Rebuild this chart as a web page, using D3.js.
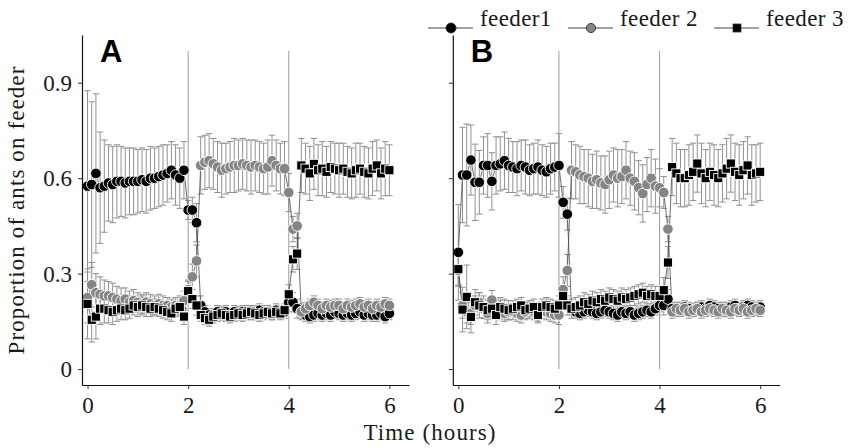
<!DOCTYPE html>
<html>
<head>
<meta charset="utf-8">
<script src="https://cdn.jsdelivr.net/npm/d3@7"></script>
<style>
  body { margin: 0; background: #fff; }
  svg text { font-family: "Liberation Serif", "Times New Roman", serif; fill: #1a1a1a; }
</style>
</head>
<body>
<svg id="chart" width="848" height="448"></svg>
<script>
// sampling times (minutes since start), one point every 5 min
const minutes = [0, 5, 10, 15, 20, 25, 30, 35, 40, 45, 50, 55, 60, 65, 70, 75, 80, 85, 90, 95, 100, 105, 110, 115,
  120, 125, 130, 135, 140, 145, 150, 155, 160, 165, 170, 175, 180, 185, 190, 195, 200, 205, 210, 215, 220, 225, 230, 235,
  240, 245, 250, 255, 260, 265, 270, 275, 280, 285, 290, 295, 300, 305, 310, 315, 320, 325, 330, 335, 340, 345, 350, 355, 360];

const switchHours = [2, 4];
const xTicks = [0, 2, 4, 6];
const yTicks = [0, 0.3, 0.6, 0.9];
const feederNames = ["feeder1", "feeder 2", "feeder 3"];

// panel A means
const aFeeder1 = [0.575, 0.58, 0.615, 0.57, 0.575, 0.585, 0.58, 0.59, 0.59, 0.585, 0.59, 0.59, 0.59, 0.595, 0.59, 0.6, 0.6, 0.605, 0.61, 0.615, 0.625, 0.61, 0.6, 0.625,
  0.5, 0.5, 0.46,
  0.2, 0.18, 0.17, 0.17, 0.18, 0.175, 0.18, 0.17, 0.18, 0.175, 0.18, 0.18, 0.175, 0.18, 0.185, 0.18, 0.18, 0.175, 0.185, 0.18, 0.18,
  0.21, 0.21, 0.19,
  0.18, 0.17, 0.165, 0.17, 0.175, 0.17, 0.175, 0.17, 0.18, 0.175, 0.17, 0.175, 0.17, 0.175, 0.18, 0.17, 0.175, 0.17, 0.17, 0.175, 0.165, 0.175];
const aFeeder2 = [0.225, 0.265, 0.24, 0.235, 0.23, 0.23, 0.225, 0.22, 0.215, 0.22, 0.21, 0.215, 0.21, 0.205, 0.21, 0.205, 0.2, 0.205, 0.2, 0.2, 0.195, 0.2, 0.2, 0.215,
  0.25, 0.29, 0.34,
  0.64, 0.65, 0.655, 0.645, 0.635, 0.625, 0.63, 0.635, 0.64, 0.64, 0.645, 0.64, 0.635, 0.64, 0.635, 0.63, 0.635, 0.655, 0.64, 0.63, 0.63,
  0.555, 0.44, 0.45,
  0.18, 0.19, 0.2, 0.21, 0.2, 0.19, 0.2, 0.195, 0.2, 0.2, 0.19, 0.2, 0.195, 0.2, 0.205, 0.195, 0.2, 0.19, 0.2, 0.195, 0.205, 0.2];
const aFeeder3 = [0.205, 0.155, 0.165, 0.19, 0.19, 0.185, 0.18, 0.185, 0.19, 0.185, 0.19, 0.2, 0.195, 0.2, 0.195, 0.19, 0.195, 0.19, 0.185, 0.18, 0.175, 0.19, 0.195, 0.165,
  0.245, 0.22, 0.2,
  0.17, 0.16, 0.155, 0.165, 0.17, 0.175, 0.17, 0.165, 0.17, 0.175, 0.17, 0.175, 0.18, 0.175, 0.17, 0.175, 0.18, 0.175, 0.18, 0.175, 0.185,
  0.235, 0.345, 0.363,
  0.64, 0.63, 0.615, 0.645, 0.625, 0.63, 0.62, 0.635, 0.63, 0.625, 0.63, 0.62, 0.615, 0.625, 0.63, 0.62, 0.615, 0.63, 0.64, 0.615, 0.63, 0.625];

// panel A error bar half-widths
const aErr1 = [0.3, 0.26, 0.25, 0.175, 0.145, 0.12, 0.12, 0.115, 0.11, 0.11, 0.105, 0.105, 0.1, 0.1, 0.1, 0.1, 0.095, 0.095, 0.095, 0.09, 0.09, 0.095, 0.095, 0.09,
  0.03, 0.04, 0.06,
  0.03, 0.02, 0.02, 0.02, 0.02, 0.02, 0.02, 0.02, 0.02, 0.02, 0.02, 0.02, 0.02, 0.02, 0.02, 0.02, 0.02, 0.02, 0.02, 0.02, 0.02,
  0.03, 0.03, 0.03,
  0.02, 0.02, 0.02, 0.02, 0.02, 0.02, 0.02, 0.02, 0.02, 0.02, 0.02, 0.02, 0.02, 0.02, 0.02, 0.02, 0.02, 0.02, 0.02, 0.02, 0.02, 0.02];
const aErr2 = [0.08, 0.07, 0.06, 0.055, 0.05, 0.045, 0.045, 0.04, 0.04, 0.035, 0.035, 0.035, 0.03, 0.03, 0.03, 0.03, 0.03, 0.03, 0.03, 0.025, 0.025, 0.025, 0.03, 0.03,
  0.03, 0.04, 0.05,
  0.09, 0.085, 0.085, 0.08, 0.08, 0.085, 0.08, 0.08, 0.085, 0.08, 0.08, 0.08, 0.085, 0.08, 0.08, 0.08, 0.085, 0.08, 0.08, 0.08, 0.085,
  0.06, 0.04, 0.04,
  0.025, 0.02, 0.02, 0.02, 0.02, 0.02, 0.02, 0.02, 0.02, 0.02, 0.02, 0.02, 0.02, 0.02, 0.02, 0.02, 0.02, 0.02, 0.02, 0.02, 0.02, 0.02];
const aErr3 = [0.11, 0.07, 0.07, 0.05, 0.045, 0.04, 0.04, 0.035, 0.035, 0.03, 0.03, 0.03, 0.03, 0.03, 0.03, 0.025, 0.025, 0.025, 0.025, 0.025, 0.025, 0.025, 0.025, 0.025,
  0.03, 0.03, 0.03,
  0.02, 0.02, 0.02, 0.02, 0.02, 0.02, 0.02, 0.02, 0.02, 0.02, 0.02, 0.02, 0.02, 0.02, 0.02, 0.02, 0.02, 0.02, 0.02, 0.02, 0.02,
  0.03, 0.04, 0.05,
  0.085, 0.08, 0.085, 0.08, 0.08, 0.085, 0.08, 0.08, 0.08, 0.085, 0.08, 0.08, 0.08, 0.085, 0.08, 0.08, 0.08, 0.085, 0.08, 0.08, 0.085, 0.08];

// panel B means
const bFeeder1 = [0.367, 0.61, 0.61, 0.657, 0.587, 0.587, 0.64, 0.64, 0.59, 0.64, 0.645, 0.655, 0.64, 0.635, 0.63, 0.64, 0.635, 0.625, 0.63, 0.635, 0.625, 0.62, 0.63, 0.635,
  0.64, 0.524, 0.487,
  0.19, 0.18, 0.175, 0.18, 0.185, 0.18, 0.175, 0.18, 0.185, 0.18, 0.175, 0.17, 0.18, 0.175, 0.18, 0.17, 0.175, 0.18, 0.185, 0.18, 0.19,
  0.2, 0.2, 0.22,
  0.19, 0.185, 0.19, 0.195, 0.19, 0.185, 0.19, 0.195, 0.19, 0.2, 0.195, 0.19, 0.185, 0.19, 0.195, 0.2, 0.19, 0.195, 0.2, 0.195, 0.19, 0.195];
const bFeeder2 = [0.31, 0.2, 0.18, 0.175, 0.2, 0.21, 0.19, 0.175, 0.217, 0.19, 0.185, 0.175, 0.18, 0.18, 0.175, 0.17, 0.18, 0.185, 0.18, 0.175, 0.185, 0.18, 0.175, 0.17,
  0.17, 0.25, 0.31,
  0.625, 0.62, 0.61, 0.605, 0.6, 0.59, 0.595, 0.585, 0.58, 0.595, 0.61, 0.6, 0.605, 0.625, 0.6, 0.59, 0.57, 0.552, 0.58, 0.6, 0.575,
  0.57, 0.555, 0.44,
  0.18, 0.19, 0.185, 0.19, 0.18, 0.185, 0.19, 0.18, 0.185, 0.19, 0.185, 0.18, 0.19, 0.185, 0.18, 0.19, 0.185, 0.19, 0.18, 0.185, 0.19, 0.185];
const bFeeder3 = [0.314, 0.187, 0.227, 0.164, 0.21, 0.2, 0.195, 0.185, 0.19, 0.17, 0.195, 0.19, 0.185, 0.19, 0.195, 0.2, 0.185, 0.19, 0.195, 0.17, 0.195, 0.2, 0.195, 0.19,
  0.2, 0.23, 0.2,
  0.19, 0.195, 0.2, 0.21, 0.205, 0.215, 0.21, 0.22, 0.215, 0.225, 0.22, 0.215, 0.225, 0.22, 0.225, 0.23, 0.235, 0.24, 0.23, 0.235, 0.23,
  0.23, 0.248, 0.335,
  0.635, 0.615, 0.6, 0.6, 0.61, 0.62, 0.646, 0.615, 0.6, 0.62, 0.61, 0.6, 0.615, 0.63, 0.646, 0.62, 0.61, 0.625, 0.64, 0.61, 0.615, 0.62];

// panel B error bar half-widths
const bErr1 = [0.15, 0.15, 0.16, 0.11, 0.12, 0.1, 0.09, 0.1, 0.09, 0.09, 0.085, 0.09, 0.085, 0.08, 0.085, 0.08, 0.085, 0.08, 0.08, 0.085, 0.08, 0.08, 0.08, 0.075,
  0.1, 0.05, 0.05,
  0.02, 0.02, 0.02, 0.02, 0.02, 0.02, 0.02, 0.02, 0.02, 0.02, 0.02, 0.02, 0.02, 0.02, 0.02, 0.02, 0.02, 0.02, 0.02, 0.02, 0.02,
  0.02, 0.03, 0.03,
  0.02, 0.02, 0.02, 0.02, 0.02, 0.02, 0.02, 0.02, 0.02, 0.02, 0.02, 0.02, 0.02, 0.02, 0.02, 0.02, 0.02, 0.02, 0.02, 0.02, 0.02, 0.02];
const bErr2 = [0.05, 0.04, 0.035, 0.035, 0.03, 0.03, 0.03, 0.03, 0.03, 0.03, 0.03, 0.025, 0.025, 0.025, 0.025, 0.025, 0.025, 0.025, 0.025, 0.025, 0.025, 0.025, 0.025, 0.025,
  0.03, 0.04, 0.05,
  0.09, 0.085, 0.09, 0.085, 0.09, 0.085, 0.09, 0.085, 0.09, 0.09, 0.085, 0.09, 0.085, 0.09, 0.085, 0.09, 0.085, 0.09, 0.085, 0.09, 0.085,
  0.06, 0.05, 0.04,
  0.02, 0.02, 0.02, 0.02, 0.02, 0.02, 0.02, 0.02, 0.02, 0.02, 0.02, 0.02, 0.02, 0.02, 0.02, 0.02, 0.02, 0.02, 0.02, 0.02, 0.02, 0.02];
const bErr3 = [0.05, 0.07, 0.1, 0.05, 0.04, 0.04, 0.035, 0.03, 0.03, 0.03, 0.03, 0.03, 0.03, 0.025, 0.025, 0.025, 0.025, 0.025, 0.025, 0.025, 0.025, 0.025, 0.025, 0.025,
  0.03, 0.03, 0.03,
  0.03, 0.03, 0.03, 0.03, 0.03, 0.03, 0.03, 0.03, 0.03, 0.03, 0.03, 0.03, 0.03, 0.03, 0.03, 0.03, 0.03, 0.03, 0.03, 0.03, 0.03,
  0.03, 0.04, 0.05,
  0.09, 0.095, 0.09, 0.09, 0.095, 0.09, 0.09, 0.095, 0.09, 0.09, 0.095, 0.09, 0.09, 0.095, 0.09, 0.09, 0.095, 0.09, 0.09, 0.095, 0.09, 0.09];

// marker style for each feeder
const markers = [
  {shape: 'circle', fill: '#000'},
  {shape: 'circle', fill: '#858585'},
  {shape: 'square', fill: '#000'}
];

const panels = [
  {label: 'A', left: 82, right: 409, showLabels: true,
   values: [aFeeder1, aFeeder2, aFeeder3], errors: [aErr1, aErr2, aErr3]},
  {label: 'B', left: 452.8, right: 779.8, showLabels: false,
   values: [bFeeder1, bFeeder2, bFeeder3], errors: [bErr1, bErr2, bErr3]}
];

const svg = d3.select('#chart');

// shared y scale
const y = d3.scaleLinear().domain([-0.05, 1.05]).range([385, 35]);

function drawMarker(sel, m, r) {
    if (m.shape === 'square') {
        sel.append('rect')
            .attr('x', -r * 0.86).attr('y', -r * 0.86)
            .attr('width', r * 1.72).attr('height', r * 1.72)
            .attr('fill', m.fill);
    } else {
        sel.append('circle').attr('r', r).attr('fill', m.fill);
    }
}

panels.forEach(p => {
    const x = d3.scaleLinear().domain([-0.11, 6.39]).range([p.left, p.right]);
    const g = svg.append('g');

    // feeder switch lines
    g.selectAll('.switch')
        .data(switchHours)
        .enter()
        .append('line')
        .attr('x1', d => x(d)).attr('x2', d => x(d))
        .attr('y1', y(0)).attr('y2', y(1))
        .attr('stroke', '#9c9c9c')
        .attr('stroke-width', 1);

    const series = markers.map((m, k) => ({
        ...m,
        points: minutes.map((mn, i) => ({t: mn / 60, v: p.values[k][i], e: p.errors[k][i]}))
    }));

    // error bars
    series.forEach(s => {
        const eb = g.append('g')
            .attr('stroke', '#919191')
            .attr('stroke-width', 1)
            .selectAll('g')
            .data(s.points)
            .enter()
            .append('g');
        eb.append('line')
            .attr('x1', d => x(d.t)).attr('x2', d => x(d.t))
            .attr('y1', d => y(d.v - d.e)).attr('y2', d => y(d.v + d.e));
        eb.append('line')
            .attr('x1', d => x(d.t) - 3.2).attr('x2', d => x(d.t) + 3.2)
            .attr('y1', d => y(d.v + d.e)).attr('y2', d => y(d.v + d.e));
        eb.append('line')
            .attr('x1', d => x(d.t) - 3.2).attr('x2', d => x(d.t) + 3.2)
            .attr('y1', d => y(d.v - d.e)).attr('y2', d => y(d.v - d.e));
    });

    // connecting lines
    const line = d3.line().x(d => x(d.t)).y(d => y(d.v));
    series.forEach(s => {
        g.append('path')
            .datum(s.points)
            .attr('d', line)
            .attr('fill', 'none')
            .attr('stroke', '#4a4a4a')
            .attr('stroke-width', 0.8);
    });

    // points
    series.forEach(s => {
        const pts = g.append('g')
            .attr('stroke', '#fff')
            .attr('stroke-width', 0.9)
            .selectAll('g')
            .data(s.points)
            .enter()
            .append('g')
            .attr('transform', d => `translate(${x(d.t)},${y(d.v)})`);
        drawMarker(pts, s, 5.3);
    });

    // axes
    const xAxis = g.append('g')
        .attr('transform', `translate(0,${y.range()[0]})`)
        .call(d3.axisBottom(x).tickValues(xTicks).tickSize(4).tickSizeOuter(0).tickPadding(8)
            .tickFormat(d3.format('d')));
    const yAxis = g.append('g')
        .attr('transform', `translate(${p.left},0)`)
        .call(d3.axisLeft(y).tickValues(yTicks).tickSize(4).tickSizeOuter(0).tickPadding(6)
            .tickFormat(d => p.showLabels ? (d === 0 ? '0' : d3.format('.1f')(d)) : ''));

    [xAxis, yAxis].forEach(a => {
        a.select('.domain').attr('stroke', '#111').attr('stroke-width', 1.2);
        a.selectAll('.tick line').attr('stroke', '#333');
        a.selectAll('.tick text')
            .attr('font-family', '"Liberation Serif", serif')
            .attr('font-size', 23)
            .attr('fill', '#1a1a1a');
    });

    // panel letter
    g.append('text')
        .attr('x', p.left + 18)
        .attr('y', 62)
        .style('font-family', '"Liberation Sans", Arial, sans-serif')
        .style('font-weight', 'bold')
        .style('font-size', '31px')
        .style('fill', '#000')
        .text(p.label);
});

// axis titles
svg.append('text')
    .attr('x', 430)
    .attr('y', 440)
    .attr('text-anchor', 'middle')
    .style('font-size', '23px')
    .style('letter-spacing', '1.1px')
    .text('Time (hours)');

svg.append('text')
    .attr('transform', 'translate(24,210) rotate(-90)')
    .attr('text-anchor', 'middle')
    .style('font-size', '23px')
    .style('letter-spacing', '1.1px')
    .text('Proportion of ants on feeder');

// legend
const legendX = [428, 568, 714];
const legend = svg.append('g')
    .selectAll('g')
    .data(feederNames)
    .enter()
    .append('g')
    .attr('transform', (d, i) => `translate(${legendX[i]},28)`);

legend.append('line')
    .attr('x1', 0).attr('x2', 45)
    .attr('stroke', '#444')
    .attr('stroke-width', 1);

legend.each(function(d, i) {
    const item = d3.select(this).append('g')
        .attr('transform', 'translate(23,0)')
        .attr('stroke', '#222')
        .attr('stroke-width', 0.8);
    drawMarker(item, markers[i], i === 0 ? 5 : 4.6);
});

legend.append('text')
    .attr('x', 52)
    .attr('y', -2)
    .style('font-size', '23px')
    .style('letter-spacing', '0.4px')
    .text(d => d);
</script>
</body>
</html>
